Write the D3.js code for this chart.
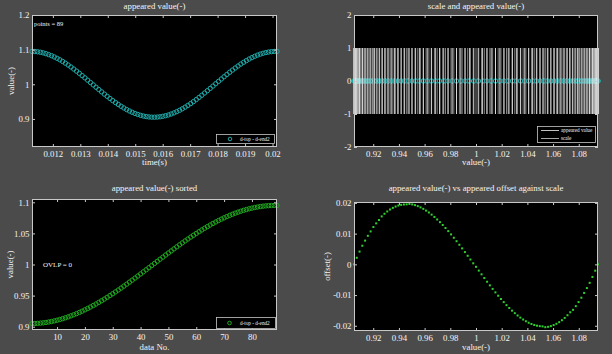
<!DOCTYPE html>
<html><head><meta charset="utf-8">
<script src="https://cdn.jsdelivr.net/npm/d3@7"></script>
<style>
body{margin:0;background:#4b4b4b;}
text{font-family:"Liberation Serif","Times New Roman",serif;}
</style>
</head><body>
<svg id="c" width="612" height="354"></svg>
<script>
// ---------- data ----------
const timeS = [0.0112400,0.0113414,0.0114428,0.0115442,0.0116456,0.0117470,0.0118484,0.0119498,0.0120512,0.0121526,
0.0122540,0.0123554,0.0124568,0.0125582,0.0126596,0.0127610,0.0128624,0.0129638,0.0130652,0.0131666,
0.0132680,0.0133694,0.0134708,0.0135722,0.0136736,0.0137750,0.0138764,0.0139778,0.0140792,0.0141806,
0.0142820,0.0143834,0.0144848,0.0145862,0.0146876,0.0147890,0.0148904,0.0149918,0.0150932,0.0151946,
0.0152960,0.0153974,0.0154988,0.0156002,0.0157016,0.0158030,0.0159044,0.0160058,0.0161072,0.0162086,
0.0163100,0.0164114,0.0165128,0.0166142,0.0167156,0.0168170,0.0169184,0.0170198,0.0171212,0.0172226,
0.0173240,0.0174254,0.0175268,0.0176282,0.0177296,0.0178310,0.0179324,0.0180338,0.0181352,0.0182366,
0.0183380,0.0184394,0.0185408,0.0186422,0.0187436,0.0188450,0.0189464,0.0190478,0.0191492,0.0192506,
0.0193520,0.0194534,0.0195548,0.0196562,0.0197576,0.0198590,0.0199604,0.0200618,0.0201632];

const appearedValue = [1.09498,1.09462,1.09378,1.09245,1.09066,1.08840,1.08570,1.08255,1.07899,1.07502,
1.07067,1.06597,1.06092,1.05556,1.04993,1.04403,1.03792,1.03161,1.02513,1.01853,
1.01184,1.00509,0.99830,0.99153,0.98481,0.97815,0.97162,0.96522,0.95900,0.95299,
0.94722,0.94172,0.93652,0.93164,0.92710,0.92294,0.91918,0.91582,0.91289,0.91041,
0.90838,0.90682,0.90574,0.90514,0.90502,0.90538,0.90622,0.90755,0.90934,0.91160,
0.91430,0.91745,0.92101,0.92498,0.92933,0.93403,0.93908,0.94444,0.95007,0.95597,
0.96208,0.96839,0.97487,0.98147,0.98816,0.99491,1.00170,1.00847,1.01519,1.02185,
1.02838,1.03478,1.04100,1.04701,1.05278,1.05828,1.06348,1.06836,1.07290,1.07706,
1.08082,1.08418,1.08711,1.08959,1.09162,1.09318,1.09426,1.09486,1.09498];

const scaleValue = [0.90502,0.90718,0.90934,0.91150,0.91365,0.91581,0.91797,0.92013,0.92229,0.92445,
0.92661,0.92876,0.93092,0.93308,0.93524,0.93740,0.93956,0.94172,0.94387,0.94603,
0.94819,0.95035,0.95251,0.95467,0.95683,0.95899,0.96114,0.96330,0.96546,0.96762,
0.96978,0.97194,0.97410,0.97625,0.97841,0.98057,0.98273,0.98489,0.98705,0.98921,
0.99136,0.99352,0.99568,0.99784,1.00000,1.00216,1.00432,1.00648,1.00863,1.01079,
1.01295,1.01511,1.01727,1.01943,1.02159,1.02374,1.02590,1.02806,1.03022,1.03238,
1.03454,1.03670,1.03885,1.04101,1.04317,1.04533,1.04749,1.04965,1.05180,1.05396,
1.05612,1.05828,1.06044,1.06260,1.06476,1.06691,1.06907,1.07123,1.07339,1.07555,
1.07771,1.07987,1.08202,1.08418,1.08634,1.08850,1.09066,1.09282,1.09498];

const offsetValue = [0.00000,0.00214,0.00416,0.00606,0.00773,0.00929,0.01072,0.01215,0.01335,0.01444,
0.01561,0.01647,0.01722,0.01786,0.01839,0.01882,0.01915,0.01938,0.01949,0.01953,
0.01966,0.01951,0.01928,0.01895,0.01855,0.01807,0.01750,0.01688,0.01619,0.01543,
0.01461,0.01374,0.01282,0.01183,0.01082,0.00975,0.00866,0.00754,0.00638,0.00520,
0.00400,0.00279,0.00157,0.00034,-0.00080,-0.00203,-0.00325,-0.00446,-0.00566,-0.00684,
-0.00800,-0.00912,-0.01021,-0.01128,-0.01229,-0.01328,-0.01420,-0.01507,-0.01589,-0.01665,
-0.01734,-0.01796,-0.01853,-0.01901,-0.01941,-0.01974,-0.01997,-0.02012,-0.02020,-0.02046,
-0.02034,-0.02011,-0.01978,-0.01935,-0.01882,-0.01819,-0.01744,-0.01657,-0.01560,-0.01481,
-0.01361,-0.01228,-0.01086,-0.00930,-0.00772,-0.00602,-0.00410,-0.00206,0.00000];

const ticksTime = [0.012,0.013,0.014,0.015,0.016,0.017,0.018,0.019,0.02];
const ticksValue1 = [0.9,1,1.1,1.2];
const ticksScaleX = [0.92,0.94,0.96,0.98,1,1.02,1.04,1.06,1.08];
const ticksScaleY = [-2,-1,0,1,2];
const ticksDataNo = [10,20,30,40,50,60,70,80];
const ticksSorted = [0.9,0.95,1,1.05,1.1];
const ticksOffset = [-0.02,-0.01,0,0.01,0.02];

const legendSeries = "d-top - d-end2";

// ---------- drawing ----------
const svg = d3.select("#c");
svg.append("rect").attr("width",612).attr("height",354).attr("fill","#4b4b4b");
const TXT = "#f4f4f4", AX = "#c8c8c8", FS = 8.8;
const fmt = d => String(+d.toFixed(4));

function panel(o){
  const g = svg.append("g");
  g.append("rect").attr("x",o.l).attr("y",o.t).attr("width",o.r-o.l).attr("height",o.b-o.t).attr("fill","#000");
  const x = d3.scaleLinear().domain(o.xd).range([o.l,o.r]);
  const y = d3.scaleLinear().domain(o.yd).range([o.b,o.t]);
  const marks = g.append("g");
  function finish(){
    const style = sel => {
      sel.select(".domain").remove();
      sel.selectAll(".tick line").attr("stroke",AX);
      sel.selectAll("text").attr("fill",TXT);
      sel.attr("font-family","Liberation Serif, serif").attr("font-size",FS);
    };
    g.append("g").attr("transform",`translate(0,${o.b})`)
      .call(d3.axisBottom(x).tickValues(o.xt).tickFormat(fmt).tickSize(-3).tickPadding(3.3)).call(style);
    g.append("g").attr("transform",`translate(0,${o.t})`)
      .call(d3.axisTop(x).tickValues(o.xt).tickFormat("").tickSize(-3)).call(style);
    g.append("g").attr("transform",`translate(${o.l},0)`)
      .call(d3.axisLeft(y).tickValues(o.yt).tickFormat(fmt).tickSize(-3).tickPadding(2.5)).call(style);
    g.append("g").attr("transform",`translate(${o.r},0)`)
      .call(d3.axisRight(y).tickValues(o.yt).tickFormat("").tickSize(-3)).call(style);
    g.append("rect").attr("x",o.l+0.5).attr("y",o.t+0.5).attr("width",o.r-o.l-1).attr("height",o.b-o.t-1)
      .attr("fill","none").attr("stroke",AX).attr("stroke-width",1);
    g.append("text").attr("x",(o.l+o.r)/2).attr("y",o.titleY).attr("text-anchor","middle")
      .attr("font-size",FS).attr("fill",TXT).text(o.title);
    g.append("text").attr("x",(o.l+o.r)/2).attr("y",o.xlabY).attr("text-anchor","middle")
      .attr("font-size",FS).attr("fill",TXT).text(o.xlab);
    if(o.ylab){
      g.append("text").attr("transform",`translate(${o.ylabX},${(o.t+o.b)/2}) rotate(-90)`)
        .attr("text-anchor","middle").attr("font-size",FS).attr("fill",TXT).text(o.ylab);
    }
  }
  return {g,x,y,marks,finish};
}

// Panel 1
const p1 = panel({l:32,r:277,t:15,b:147,xd:[timeS[0],timeS[timeS.length-1]],yd:[0.819,1.2],
  xt:ticksTime,yt:ticksValue1,title:"appeared value(-)",titleY:9,xlab:"time(s)",xlabY:165,ylab:"value(-)",ylabX:14});
p1.marks.selectAll("circle").data(appearedValue).join("circle")
  .attr("cx",(d,i)=>p1.x(timeS[i])).attr("cy",d=>p1.y(d)).attr("r",2.2)
  .attr("fill","none").attr("stroke","#1fa8a8").attr("stroke-width",1);
p1.g.append("text").attr("x",34).attr("y",26).attr("font-size",6.5).attr("fill",TXT).text("points = 89");
p1.finish();
{
  const lg = p1.g.append("g");
  lg.append("rect").attr("x",216.5).attr("y",134.5).attr("width",58).attr("height",9).attr("fill","#000").attr("stroke",AX).attr("stroke-width",0.8);
  lg.append("circle").attr("cx",230).attr("cy",139).attr("r",1.8).attr("fill","none").attr("stroke","#1fa8a8");
  lg.append("text").attr("x",240).attr("y",141).attr("font-size",5.2).attr("fill",TXT).text(legendSeries);
}

// Panel 2
const p2 = panel({l:354,r:598,t:15,b:147,xd:[d3.min(appearedValue),d3.max(appearedValue)],yd:[-2,2],
  xt:ticksScaleX,yt:ticksScaleY,title:"scale and appeared value(-)",titleY:9,xlab:"value(-)",xlabY:165});
p2.marks.append("g").selectAll("line").data(scaleValue).join("line")
  .attr("x1",d=>p2.x(d)).attr("x2",d=>p2.x(d)).attr("y1",p2.y(-1)).attr("y2",p2.y(1))
  .attr("stroke","#a8a8a8").attr("stroke-width",0.8);
p2.marks.append("g").selectAll("circle").data(appearedValue).join("circle")
  .attr("cx",d=>p2.x(d)).attr("cy",p2.y(0)).attr("r",2.2)
  .attr("fill","none").attr("stroke","#1fa8a8").attr("stroke-width",1);
p2.marks.append("g").selectAll("line").data(appearedValue).join("line")
  .attr("x1",d=>p2.x(d)).attr("x2",d=>p2.x(d)).attr("y1",p2.y(-1)).attr("y2",p2.y(1))
  .attr("stroke","#f4f4f4").attr("stroke-width",0.8);
p2.finish();
{
  const lg = p2.g.append("g");
  lg.append("rect").attr("x",537.5).attr("y",126.5).attr("width",58).attr("height",16).attr("fill","#000").attr("stroke",AX).attr("stroke-width",0.8);
  const rows = [["appeared value","#f2f2f2",130.5],["scale","#d0d0d0",138.5]];
  rows.forEach(r=>{
    lg.append("line").attr("x1",541).attr("x2",559).attr("y1",r[2]).attr("y2",r[2]).attr("stroke",r[1]).attr("stroke-width",0.8);
    lg.append("text").attr("x",561).attr("y",r[2]+1.7).attr("font-size",5.2).attr("fill",TXT).text(r[0]);
  });
}

// Panel 3
const sortedValue = appearedValue.slice().sort((a,b)=>a-b);
const p3 = panel({l:32,r:277,t:199,b:330,xd:[1,sortedValue.length],yd:[0.8947,1.1053],
  xt:ticksDataNo,yt:ticksSorted,title:"appeared value(-) sorted",titleY:191,xlab:"data No.",xlabY:350,ylab:"value(-)",ylabX:13});
p3.marks.selectAll("circle").data(sortedValue).join("circle")
  .attr("cx",(d,i)=>p3.x(i+1)).attr("cy",d=>p3.y(d)).attr("r",2.2)
  .attr("fill","none").attr("stroke","#1fa81f").attr("stroke-width",1);
p3.g.append("text").attr("x",43).attr("y",267).attr("font-size",7).attr("fill",TXT).text("OVLP = 0");
p3.finish();
{
  const lg = p3.g.append("g");
  lg.append("rect").attr("x",216.5).attr("y",317.5).attr("width",59).attr("height",11).attr("fill","#000").attr("stroke",AX).attr("stroke-width",0.8);
  lg.append("circle").attr("cx",229.5).attr("cy",323).attr("r",1.8).attr("fill","none").attr("stroke","#1fa81f");
  lg.append("text").attr("x",240).attr("y",325).attr("font-size",5.2).attr("fill",TXT).text(legendSeries);
}

// Panel 4
const p4 = panel({l:354,r:598,t:202,b:331,xd:[d3.min(appearedValue),d3.max(appearedValue)],yd:[-0.0217,0.0203],
  xt:ticksScaleX,yt:ticksOffset,title:"appeared value(-) vs appeared offset against scale",titleY:191,xlab:"value(-)",xlabY:350,ylab:"offset(-)",ylabX:330});
p4.marks.selectAll("rect").data(offsetValue).join("rect")
  .attr("x",(d,i)=>p4.x(scaleValue[i])-1).attr("y",d=>p4.y(d)-1).attr("width",2).attr("height",2)
  .attr("fill","#2fd02f");
p4.finish();
</script>
</body></html>
